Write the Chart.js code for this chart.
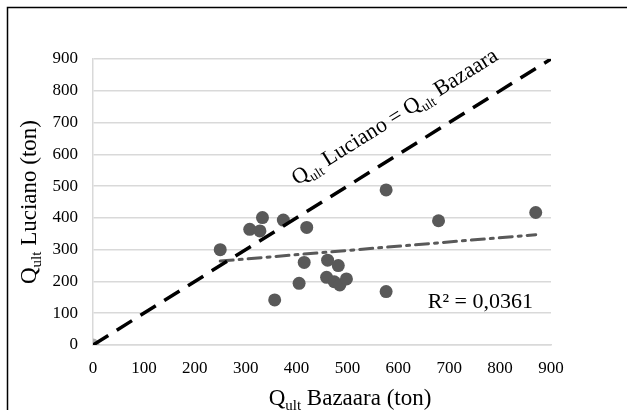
<!DOCTYPE html>
<html>
<head>
<meta charset="utf-8">
<script src="https://cdn.jsdelivr.net/npm/chart.js@4.4.1/dist/chart.umd.min.js"></script>
<style>
    html, body { margin: 0; padding: 0; background: #fff; }
    canvas { display: block; }
</style>
</head>
<body>
<canvas id="qultChart" width="627" height="410"></canvas>
<script>
// Values
const bazaara = [250, 308, 328, 333, 374, 420, 415, 405, 357, 461, 482, 459, 474, 485, 498, 576, 576, 679, 870];
const luciano = [300, 364, 359, 401, 393, 370, 260, 194, 142, 267, 250, 213, 199, 189, 208, 488, 168, 391, 417];

// Linear trend line ends (R² = 0,0361)
const trendX = [250, 870];
const trendY = [264, 347];

// Q Luciano = Q Bazaara reference line
const refX = [0, 900];
const refY = [0, 900];

const axisTicks = [0, 100, 200, 300, 400, 500, 600, 700, 800, 900];
const r2Label = 'R² = 0,0361';

const SERIF = "'Liberation Serif', 'Times New Roman', serif";

function toPoints(xs, ys) {
    return xs.map((x, i) => ({ x: x, y: ys[i] }));
}

// Draw text with subscripts, centered on (cx, cy), rotated by angle
function drawRich(ctx, parts, cx, cy, angle, size) {
    ctx.save();
    let total = 0;
    parts.forEach(p => {
        ctx.font = p.size + 'px ' + SERIF;
        p.w = ctx.measureText(p.t).width;
        total += p.w;
    });
    ctx.translate(cx, cy);
    ctx.rotate(angle);
    ctx.fillStyle = '#000';
    ctx.textBaseline = 'alphabetic';
    ctx.textAlign = 'left';
    let x = -total / 2;
    const base = size * 0.33;
    parts.forEach(p => {
        ctx.font = p.size + 'px ' + SERIF;
        ctx.fillText(p.t, x, base + (p.dy || 0));
        x += p.w;
    });
    ctx.restore();
}

const annotations = {
    id: 'annotations',
    beforeDraw(chart) {
        const ctx = chart.ctx;
        // outer frame (cut off at right and bottom)
        ctx.save();
        ctx.strokeStyle = '#000';
        ctx.lineWidth = 1.5;
        ctx.beginPath();
        ctx.moveTo(7.5, 410);
        ctx.lineTo(7.5, 7.5);
        ctx.lineTo(627, 7.5);
        ctx.stroke();
        ctx.restore();
    },
    afterDraw(chart) {
        const ctx = chart.ctx;
        const xs = chart.scales.x;
        const ys = chart.scales.y;
        const area = chart.chartArea;

        // axis titles
        drawRich(ctx, [
            { t: 'Q', size: 23 },
            { t: 'ult', size: 15, dy: 5 },
            { t: ' Bazaara (ton)', size: 23 }
        ], 350, 397, 0, 23);
        drawRich(ctx, [
            { t: 'Q', size: 23 },
            { t: 'ult', size: 15, dy: 5 },
            { t: ' Luciano (ton)', size: 23 }
        ], 28, (area.top + area.bottom) / 2, -Math.PI / 2, 23);

        // label along the reference line
        const angle = Math.atan2(ys.getPixelForValue(refY[1]) - ys.getPixelForValue(refY[0]),
                                 xs.getPixelForValue(refX[1]) - xs.getPixelForValue(refX[0]));
        drawRich(ctx, [
            { t: 'Q', size: 22 },
            { t: 'ult', size: 14, dy: 5 },
            { t: ' Luciano = Q', size: 22 },
            { t: 'ult', size: 14, dy: 5 },
            { t: ' Bazaara', size: 22 }
        ], xs.getPixelForValue(592), ys.getPixelForValue(720), angle, 22);

        // R² of the trend line
        ctx.save();
        ctx.font = '22px ' + SERIF;
        ctx.fillStyle = '#000';
        ctx.textBaseline = 'middle';
        ctx.textAlign = 'left';
        ctx.fillText(r2Label, xs.getPixelForValue(658), ys.getPixelForValue(135));
        ctx.restore();
    }
};

new Chart(document.getElementById('qultChart'), {
    type: 'scatter',
    data: {
        datasets: [
            {
                label: 'Q Luciano = Q Bazaara',
                data: toPoints(refX, refY),
                showLine: true,
                borderColor: '#000',
                borderWidth: 3.5,
                borderDash: [18, 10],
                pointRadius: 0,
                order: 0
            },
            {
                label: 'Data',
                data: toPoints(bazaara, luciano),
                backgroundColor: '#595959',
                borderWidth: 0,
                pointRadius: 6.5,
                order: 1
            },
            {
                label: 'Trend',
                data: toPoints(trendX, trendY),
                showLine: true,
                borderColor: '#595959',
                borderWidth: 3,
                borderDash: [13, 6, 3, 6],
                borderCapStyle: 'round',
                pointRadius: 0,
                order: 2
            },
            {
                label: 'Origin',
                data: [{ x: refX[0], y: refY[0] }],
                backgroundColor: '#ADADAD',
                borderWidth: 0,
                pointRadius: 6.5,
                order: 3
            }
        ]
    },
    options: {
        responsive: false,
        animation: false,
        layout: {
            padding: { left: 0, top: 59, right: 76, bottom: 0 }
        },
        plugins: {
            legend: { display: false },
            tooltip: { enabled: false }
        },
        scales: {
            x: {
                type: 'linear',
                min: axisTicks[0],
                max: axisTicks[axisTicks.length - 1],
                afterBuildTicks: scale => { scale.ticks = axisTicks.map(v => ({ value: v })); },
                afterFit: scale => { scale.height = 65; },
                grid: { display: false, drawTicks: false },
                border: { display: true, color: '#D9D9D9', width: 1.5 },
                ticks: {
                    padding: 13,
                    color: '#000',
                    font: { family: SERIF, size: 17 }
                }
            },
            y: {
                type: 'linear',
                min: axisTicks[0],
                max: axisTicks[axisTicks.length - 1],
                afterBuildTicks: scale => { scale.ticks = axisTicks.map(v => ({ value: v })); },
                afterFit: scale => { scale.width = 93; },
                grid: { color: '#D9D9D9', lineWidth: 1.5, drawTicks: false },
                border: { display: true, color: '#D9D9D9', width: 1.5 },
                ticks: {
                    padding: 15,
                    color: '#000',
                    font: { family: SERIF, size: 17 }
                }
            }
        }
    },
    plugins: [annotations]
});
</script>
</body>
</html>
